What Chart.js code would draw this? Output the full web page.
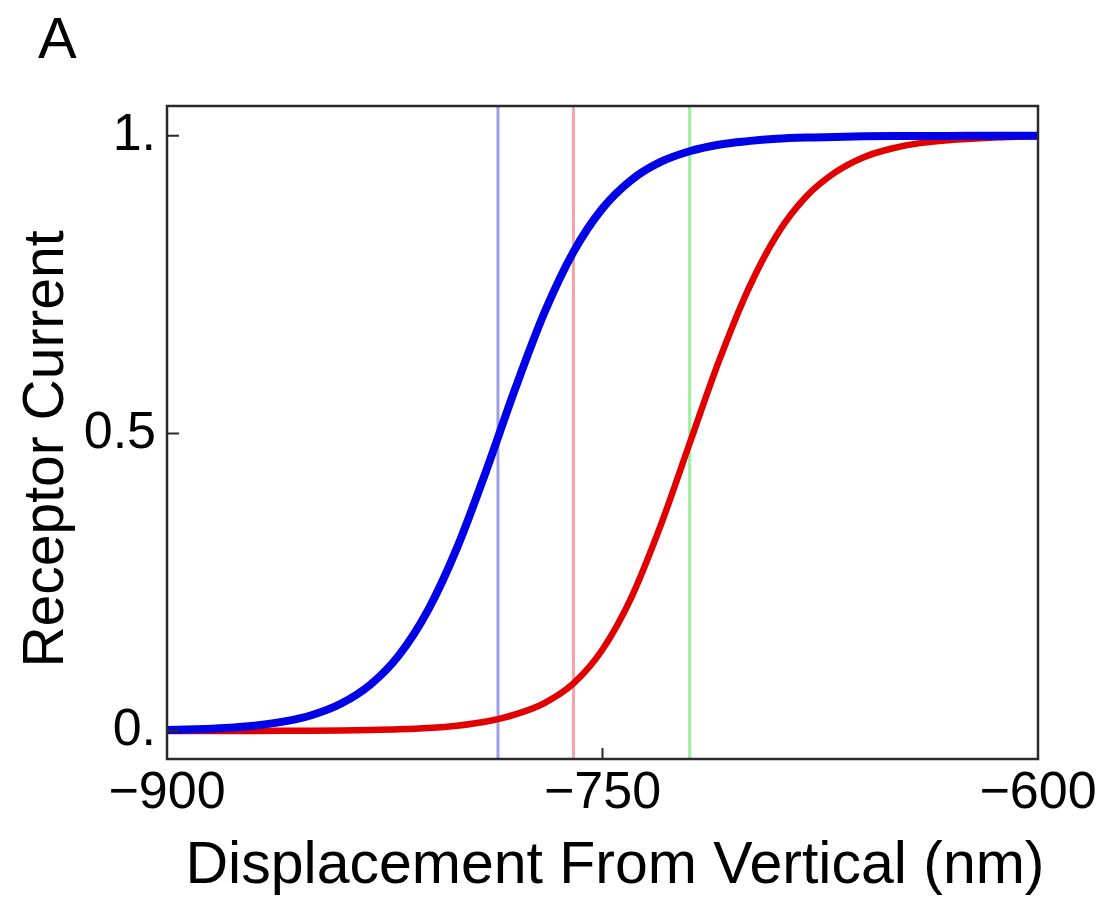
<!DOCTYPE html>
<html>
<head>
<meta charset="utf-8">
<script src="https://cdn.jsdelivr.net/npm/chart.js@4/dist/chart.umd.min.js"></script>
<style>
html, body { margin: 0; padding: 0; background: #fff; }
</style>
</head>
<body>
<div style="position:relative;width:1108px;height:899px">
<canvas id="myChart" width="1108" height="899"></canvas>
</div>
<script>
// displacement from vertical (nm)
var displacement = [-900, -890, -880, -870, -860, -850, -840, -830, -820, -810,
  -800, -790, -780, -770, -760, -750, -740, -730, -720, -710,
  -700, -690, -680, -670, -660, -650, -640, -630, -620, -610, -600];
var blueCurrent = [0.0017, 0.0030, 0.0052, 0.0090, 0.0157, 0.0270, 0.0462, 0.0778, 0.128, 0.204,
  0.309, 0.438, 0.576, 0.703, 0.805, 0.878, 0.926, 0.956, 0.974, 0.985,
  0.991, 0.995, 0.997, 0.998, 0.999, 0.9995, 0.9997, 0.9998, 0.9999, 0.9999, 1.0];
var redCurrent = [0.0000, 0.0001, 0.0001, 0.0002, 0.0003, 0.0005, 0.0009, 0.0016, 0.0028, 0.0050,
  0.009, 0.016, 0.028, 0.047, 0.080, 0.137, 0.225, 0.345, 0.483, 0.620,
  0.740, 0.833, 0.897, 0.938, 0.964, 0.979, 0.988, 0.993, 0.996, 0.998, 0.999];
// positions of the thin vertical marker lines
var markerLines = [-786, -760, -720];
var markerColors = ['rgba(40,40,200,0.45)', 'rgba(230,40,40,0.42)', 'rgba(40,220,40,0.45)'];
var xTicks = [-900, -750, -600];
var yTicks = [0, 0.5, 1];
var yTickLabels = ['0.', '0.5', '1.'];
var xTitle = 'Displacement From Vertical (nm)';
var yTitle = 'Receptor Current';

var yMin = -0.047, yMax = 1.05;
var FONT = "'Liberation Sans', Arial, Helvetica, sans-serif";

function pts(xs, ys) {
  return xs.map(function (x, i) { return { x: x, y: ys[i] }; });
}

var datasets = [
  { data: pts(displacement, blueCurrent), borderColor: '#0000e6', borderWidth: 8, order: 0 },
  { data: pts(displacement, redCurrent), borderColor: '#e00000', borderWidth: 6.5, order: 1 }
];
markerLines.forEach(function (m, i) {
  datasets.push({
    data: [{ x: m, y: yMin }, { x: m, y: yMax }],
    borderColor: markerColors[i], borderWidth: 3, order: 2
  });
});

// box around the plot, inward tick marks, axis titles, panel letter
var framePlugin = {
  id: 'frame',
  afterDatasetsDraw: function (chart) {
    var ctx = chart.ctx, a = chart.chartArea;
    var xs = chart.scales.x, ys = chart.scales.y;
    ctx.save();
    ctx.strokeStyle = '#2a2a2a';
    ctx.lineWidth = 2.5;
    ctx.strokeRect(a.left, a.top, a.right - a.left, a.bottom - a.top);
    ctx.lineWidth = 2;
    ctx.beginPath();
    xTicks.forEach(function (v) {
      var px = xs.getPixelForValue(v);
      ctx.moveTo(px, a.bottom);
      ctx.lineTo(px, a.bottom - 11);
    });
    yTicks.forEach(function (v) {
      var py = ys.getPixelForValue(v);
      ctx.moveTo(a.left, py);
      ctx.lineTo(a.left + 12, py);
    });
    ctx.stroke();

    ctx.fillStyle = '#000';
    ctx.textBaseline = 'alphabetic';
    ctx.font = '58px ' + FONT;
    ctx.textAlign = 'left';
    ctx.fillText('A', 38, 58);

    ctx.textAlign = 'center';
    ctx.font = '59px ' + FONT;
    ctx.fillText(xTitle, 615, 883);
    ctx.font = '57px ' + FONT;
    ctx.translate(63, 449);
    ctx.rotate(-Math.PI / 2);
    ctx.fillText(yTitle, 0, 0);
    ctx.restore();
  }
};

var ctx = document.getElementById('myChart').getContext('2d');
var myChart = new Chart(ctx, {
  type: 'line',
  data: { datasets: datasets },
  options: {
    responsive: false,
    animation: false,
    devicePixelRatio: 1,
    layout: { padding: { left: 0, top: 106, right: 70, bottom: 0 } },
    elements: {
      point: { radius: 0 },
      line: { cubicInterpolationMode: 'monotone', borderCapStyle: 'butt' }
    },
    scales: {
      x: {
        type: 'linear',
        min: -900,
        max: -600,
        afterBuildTicks: function (s) { s.ticks = xTicks.map(function (v) { return { value: v }; }); },
        afterFit: function (s) { s.height = 140; },
        grid: { display: false, drawTicks: false },
        border: { display: false },
        ticks: {
          color: '#000',
          padding: 3,
          maxRotation: 0,
          autoSkip: false,
          font: { family: FONT, size: 52 },
          callback: function (v) { return '\u2212' + Math.abs(v); }
        }
      },
      y: {
        min: yMin,
        max: yMax,
        afterBuildTicks: function (s) { s.ticks = yTicks.map(function (v) { return { value: v }; }); },
        afterFit: function (s) { s.width = 167; },
        grid: { display: false, drawTicks: false },
        border: { display: false },
        ticks: {
          color: '#000',
          padding: 11,
          autoSkip: false,
          font: { family: FONT, size: 52 },
          callback: function (v) { return yTickLabels[yTicks.indexOf(v)]; }
        }
      }
    },
    plugins: {
      legend: { display: false },
      tooltip: { enabled: false }
    }
  },
  plugins: [framePlugin]
});
</script>
</body>
</html>
